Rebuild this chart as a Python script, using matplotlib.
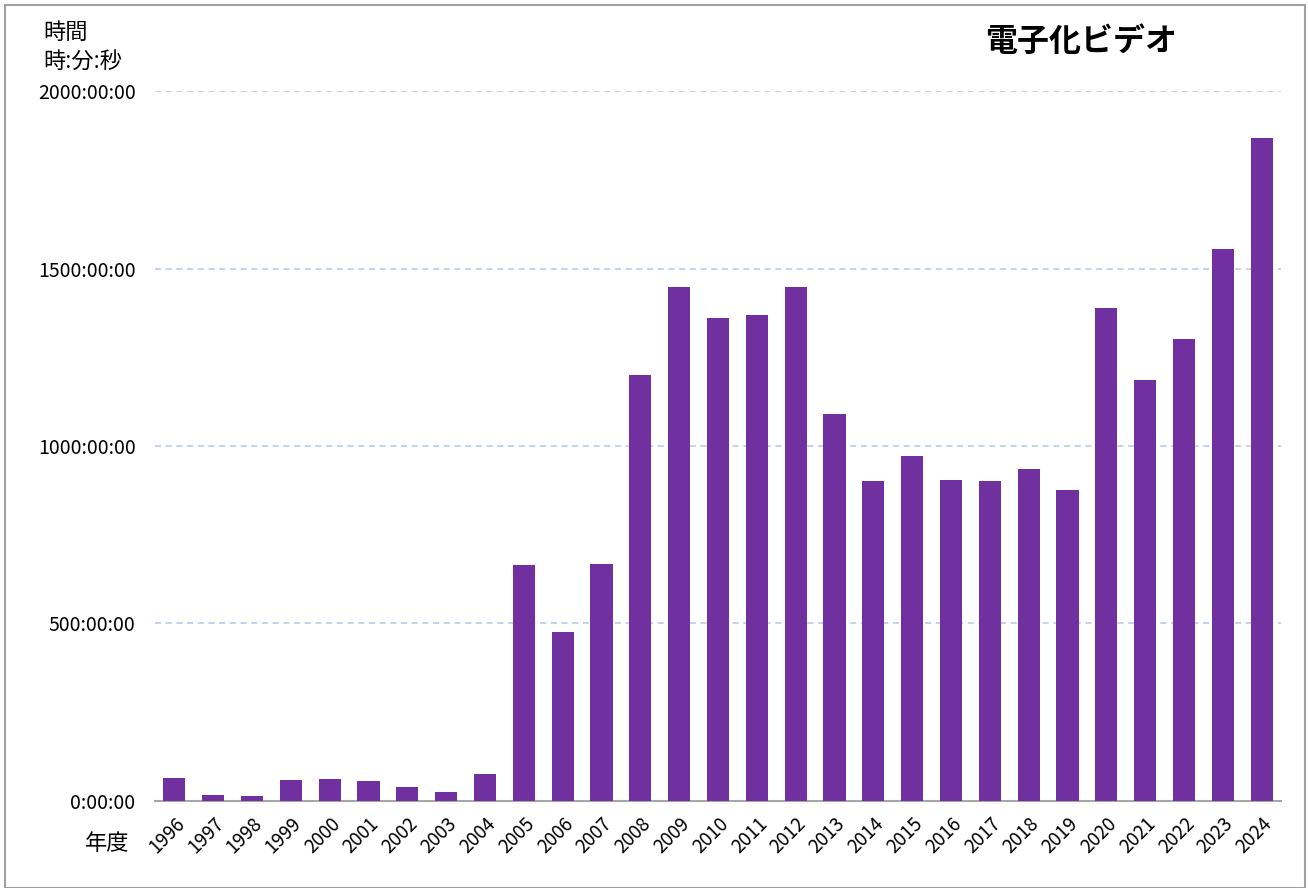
import numpy as np
import matplotlib.pyplot as plt
from matplotlib.patches import Rectangle

plt.rcParams['font.family'] = ['Noto Sans CJK JP', 'DejaVu Sans']

# 年度ごとの電子化ビデオ時間（時間）
years = [str(y) for y in range(1996, 2025)]
hours = [65, 17, 14, 59, 62, 56, 39, 25, 76, 665, 476, 668, 1200, 1448,
         1361, 1369, 1448, 1090, 901, 972, 904, 901, 935, 876, 1389, 1186,
         1301, 1555, 1868]
y_ticks = [0, 500, 1000, 1500, 2000]

fig = plt.figure(figsize=(13.08, 8.88), dpi=100)
ax = fig.add_axes([0.1185, 0.098, 0.8609, 0.7995])

x = np.arange(len(years))
ax.bar(x, hours, width=0.57, color='#7030A0', zorder=3)

ax.set_xlim(-0.5, len(years) - 0.5)
ax.set_ylim(0, 2000)
ax.set_yticks(y_ticks)
ax.set_yticklabels([f'{t}:00:00' for t in y_ticks], fontsize=14)
ax.set_xticks(x)
ax.set_xticklabels(years, rotation=45, ha='right', rotation_mode='anchor', fontsize=13.5)
ax.tick_params(length=0)
ax.tick_params(axis='y', pad=14)
ax.tick_params(axis='x', pad=9)

ax.grid(axis='y', color='#B4C7E7', linestyle=(0, (4, 3)), linewidth=1.1, zorder=0)
for s in ['left', 'right', 'top']:
    ax.spines[s].set_visible(False)
ax.spines['bottom'].set_color('#A6A6A6')
ax.spines['bottom'].set_linewidth(1.5)

fig.text(43 / 1308, 1 - 32 / 888, '時間', fontsize=16, va='center', ha='left')
fig.text(43 / 1308, 1 - 62 / 888, '時:分:秒', fontsize=16, va='center', ha='left')
fig.text(107 / 1308, 1 - 843 / 888, '年度', fontsize=16, va='center', ha='center')
fig.text(1081 / 1308, 1 - 42 / 888, '電子化ビデオ', fontsize=23, fontweight='bold',
         va='center', ha='center')

# 外枠
fig.patches.append(Rectangle((5 / 1308, 0), 1300 / 1308, 1 - 5 / 888,
                             transform=fig.transFigure, fill=False,
                             edgecolor='#A0A0A0', linewidth=1.5))

fig.savefig('out.png', dpi=100)
